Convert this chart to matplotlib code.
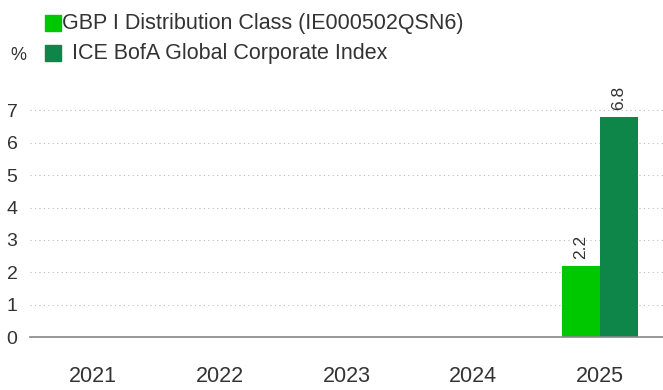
import numpy as np
import matplotlib.pyplot as plt

years = ['2021', '2022', '2023', '2024', '2025']
fund = [np.nan, np.nan, np.nan, np.nan, 2.2]
index = [np.nan, np.nan, np.nan, np.nan, 6.8]
fund_name = 'GBP I Distribution Class (IE000502QSN6)'
index_name = 'ICE BofA Global Corporate Index'

fund_color = '#00C800'
index_color = '#0E8649'
text_color = '#333333'

plt.rcParams['font.family'] = ['Liberation Sans', 'DejaVu Sans']

fig = plt.figure(figsize=(6.63, 3.90), dpi=100)
ax = fig.add_axes([30 / 663, 1 - 337 / 390, 633 / 663, (337 - 91) / 390])

x = np.arange(len(years))
w = 0.3
b1 = ax.bar(x - w / 2, fund, w, color=fund_color, label=fund_name)
b2 = ax.bar(x + w / 2, index, w, color=index_color, label=index_name)

for bars, vals in ((b1, fund), (b2, index)):
    for rect, v in zip(bars, vals):
        if np.isnan(v):
            continue
        ax.text(rect.get_x() + rect.get_width() / 2, v + 0.2, f'{v:.1f}',
                rotation=90, ha='center', va='bottom', fontsize=12.5, color=text_color)

ax.set_xlim(-0.5, len(years) - 0.5)
ax.set_ylim(0, 7.6)
ax.set_yticks(range(0, 8))
ax.set_xticks(x)
ax.set_xticklabels(years)
ax.tick_params(axis='x', length=0, pad=21, labelsize=15.5, labelcolor=text_color)
ax.tick_params(axis='y', length=0, pad=9, labelsize=14, labelcolor=text_color)
ax.grid(axis='y', linestyle=(0, (1, 3)), color='#BBBBBB', linewidth=0.8)
ax.set_axisbelow(True)
for s in ('top', 'right', 'left'):
    ax.spines[s].set_visible(False)
ax.spines['bottom'].set_color('#888888')
ax.spines['bottom'].set_linewidth(1.2)

# legend drawn by hand to match the stacked layout
fig.patches.append(plt.Rectangle((45 / 663, 1 - 31 / 390), 16 / 663, 16 / 390,
                                 transform=fig.transFigure, color=fund_color))
fig.patches.append(plt.Rectangle((45 / 663, 1 - 61 / 390), 16 / 663, 16 / 390,
                                 transform=fig.transFigure, color=index_color))
fig.text(62 / 663, 1 - 23 / 390, fund_name, va='center', fontsize=15.5, color=text_color)
fig.text(72 / 663, 1 - 53 / 390, index_name, va='center', fontsize=15.5, color=text_color)
fig.text(10 / 663, 1 - 55 / 390, '%', va='center', fontsize=13, color=text_color)

fig.savefig('out.png', dpi=100)
